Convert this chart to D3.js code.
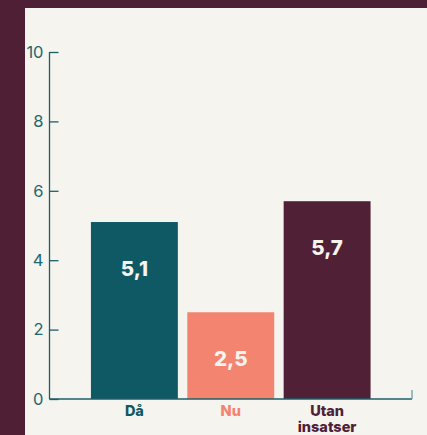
<!DOCTYPE html>
<html><head><meta charset="utf-8">
<script src="https://cdn.jsdelivr.net/npm/d3@7"></script>
<style>
html,body{margin:0;padding:0;background:#4f2035;}
svg{display:block;}
</style></head>
<body>
<script>
const categories = ["Då", "Nu", "Utan insatser"];
const labelLines = [["Då"], ["Nu"], ["Utan", "insatser"]];
const values = [5.1, 2.5, 5.7];
const valueLabels = ["5,1", "2,5", "5,7"];
const yTicks = [0, 2, 4, 6, 8, 10];
const colors = ["#0e5964", "#f38470", "#4f2036"];

const W = 427, H = 435;
const svg = d3.select("body").append("svg").attr("width", W).attr("height", H);
svg.append("rect").attr("width", W).attr("height", H).attr("fill", "#4f2035");
svg.append("rect").attr("x", 25).attr("y", 8).attr("width", W - 25).attr("height", H - 8).attr("fill", "#f5f4ee");

const x0 = 49.5, x1 = 412, yTop = 52, yBot = 399;
const y = d3.scaleLinear().domain([0, 10]).range([yBot, yTop]);
const x = d3.scaleBand().domain(categories).range([x0, x1]).paddingInner(0.098).paddingOuter(0.43);

const axisColor = "#1d5f69";
const font = "Inter, 'Noto Sans', sans-serif";

// y axis
const yAxis = svg.append("g").attr("transform", `translate(${x0},0)`)
  .call(d3.axisRight(y).tickValues(yTicks).tickSize(9).tickFormat(d3.format("d")));
yAxis.select(".domain").remove();
yAxis.selectAll(".tick line").attr("stroke", axisColor).attr("stroke-width", 1.3);
yAxis.selectAll(".tick text").attr("x", -6).attr("text-anchor", "end")
  .attr("fill", "#1f6670").attr("font-family", font).attr("font-size", 16.5).attr("font-weight", 400);
svg.append("line").attr("x1", x0).attr("x2", x0).attr("y1", yTop).attr("y2", yBot)
  .attr("stroke", axisColor).attr("stroke-width", 1.3);

// bars
svg.selectAll("rect.bar").data(values).join("rect").attr("class", "bar")
  .attr("x", (d, i) => x(categories[i])).attr("width", x.bandwidth())
  .attr("y", d => y(d)).attr("height", d => y(0) - y(d))
  .attr("fill", (d, i) => colors[i]);

// value labels
svg.selectAll("text.val").data(values).join("text").attr("class", "val")
  .attr("x", (d, i) => x(categories[i]) + x.bandwidth() / 2)
  .attr("y", d => y(d) + 47).attr("dy", "0.35em")
  .attr("text-anchor", "middle").attr("fill", "#f5f4ee")
  .attr("font-family", font).attr("font-size", 20.5).attr("font-weight", 800)
  .text((d, i) => valueLabels[i]);

// x axis
svg.append("line").attr("x1", x0).attr("x2", x1).attr("y1", yBot).attr("y2", yBot)
  .attr("stroke", axisColor).attr("stroke-width", 1.3);
svg.append("line").attr("x1", x1).attr("x2", x1).attr("y1", yBot - 9).attr("y2", yBot)
  .attr("stroke", "#6a9ea4").attr("stroke-width", 1.3);

// category labels
categories.forEach((c, i) => {
  const t = svg.append("text").attr("x", x(c) + x.bandwidth() / 2).attr("y", 411)
    .attr("text-anchor", "middle").attr("fill", colors[i])
    .attr("font-family", font).attr("font-size", 14.5).attr("font-weight", 800);
  labelLines[i].forEach((l, j) => {
    t.append("tspan").attr("x", x(c) + x.bandwidth() / 2).attr("dy", j === 0 ? "0.35em" : 16).text(l);
  });
});
</script>
</body></html>
